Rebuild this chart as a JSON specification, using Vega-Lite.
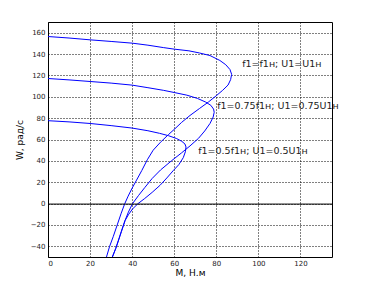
{
  "$schema": "https://vega.github.io/schema/vega-lite/v6.json",
  "width": 284,
  "height": 235,
  "autosize": {"type": "none"},
  "padding": {"left": 48, "top": 22, "right": 35, "bottom": 32},
  "background": "white",
  "config": {
    "view": {"stroke": "black", "strokeWidth": 1},
    "font": "DejaVu Sans",
    "axis": {
      "grid": true,
      "gridColor": "black",
      "gridDash": [1, 2],
      "gridOpacity": 1,
      "gridWidth": 1,
      "ticks": false,
      "domain": false,
      "labelOverlap": false,
      "labelFont": "DejaVu Sans",
      "labelFontSize": 7,
      "labelColor": "#222",
      "titleFont": "DejaVu Sans",
      "titleFontSize": 9,
      "titleFontWeight": "normal",
      "titleColor": "black"
    }
  },
  "datasets": {
    "curves": [
      {"c": "a", "i": 1, "M": 0, "W": 156.4},
      {"c": "a", "i": 2, "M": 10, "W": 155},
      {"c": "a", "i": 3, "M": 20, "W": 153.3},
      {"c": "a", "i": 4, "M": 30, "W": 151.8},
      {"c": "a", "i": 5, "M": 40, "W": 150.2},
      {"c": "a", "i": 6, "M": 47.5, "W": 148.3},
      {"c": "a", "i": 7, "M": 55, "W": 146},
      {"c": "a", "i": 8, "M": 60, "W": 144.6},
      {"c": "a", "i": 9, "M": 67, "W": 143},
      {"c": "a", "i": 10, "M": 72, "W": 141},
      {"c": "a", "i": 11, "M": 77, "W": 138.6},
      {"c": "a", "i": 12, "M": 81.7, "W": 134},
      {"c": "a", "i": 13, "M": 84.5, "W": 130},
      {"c": "a", "i": 14, "M": 86.5, "W": 125.5},
      {"c": "a", "i": 15, "M": 87.3, "W": 121},
      {"c": "a", "i": 16, "M": 86.8, "W": 116},
      {"c": "a", "i": 17, "M": 85.6, "W": 111},
      {"c": "a", "i": 18, "M": 83, "W": 106},
      {"c": "a", "i": 19, "M": 80, "W": 101},
      {"c": "a", "i": 20, "M": 76.2, "W": 95},
      {"c": "a", "i": 21, "M": 72, "W": 89},
      {"c": "a", "i": 22, "M": 67.5, "W": 82.5},
      {"c": "a", "i": 23, "M": 63.5, "W": 76},
      {"c": "a", "i": 24, "M": 60.3, "W": 70},
      {"c": "a", "i": 25, "M": 57.2, "W": 64.5},
      {"c": "a", "i": 26, "M": 53.5, "W": 57.5},
      {"c": "a", "i": 27, "M": 50, "W": 50},
      {"c": "a", "i": 28, "M": 47.2, "W": 41},
      {"c": "a", "i": 29, "M": 44.6, "W": 31},
      {"c": "a", "i": 30, "M": 42.1, "W": 22},
      {"c": "a", "i": 31, "M": 40, "W": 14.5},
      {"c": "a", "i": 32, "M": 38.1, "W": 7},
      {"c": "a", "i": 33, "M": 36.5, "W": 0},
      {"c": "a", "i": 34, "M": 34.8, "W": -9},
      {"c": "a", "i": 35, "M": 32.9, "W": -20},
      {"c": "a", "i": 36, "M": 31, "W": -31},
      {"c": "a", "i": 37, "M": 29.3, "W": -40},
      {"c": "a", "i": 38, "M": 27.8, "W": -50},
      {"c": "b", "i": 1, "M": 0, "W": 117.1},
      {"c": "b", "i": 2, "M": 10, "W": 115.8},
      {"c": "b", "i": 3, "M": 20, "W": 114.3},
      {"c": "b", "i": 4, "M": 30, "W": 112.8},
      {"c": "b", "i": 5, "M": 40, "W": 110.9},
      {"c": "b", "i": 6, "M": 47.5, "W": 108.5},
      {"c": "b", "i": 7, "M": 55, "W": 106},
      {"c": "b", "i": 8, "M": 60, "W": 104},
      {"c": "b", "i": 9, "M": 66, "W": 101.5},
      {"c": "b", "i": 10, "M": 71, "W": 98.5},
      {"c": "b", "i": 11, "M": 75, "W": 95},
      {"c": "b", "i": 12, "M": 77.4, "W": 92},
      {"c": "b", "i": 13, "M": 78.7, "W": 88.5},
      {"c": "b", "i": 14, "M": 79, "W": 85.5},
      {"c": "b", "i": 15, "M": 78.5, "W": 81},
      {"c": "b", "i": 16, "M": 77, "W": 75},
      {"c": "b", "i": 17, "M": 74.5, "W": 68},
      {"c": "b", "i": 18, "M": 71.5, "W": 61},
      {"c": "b", "i": 19, "M": 67.5, "W": 54},
      {"c": "b", "i": 20, "M": 63.5, "W": 47.5},
      {"c": "b", "i": 21, "M": 58.8, "W": 40.2},
      {"c": "b", "i": 22, "M": 53.5, "W": 31.5},
      {"c": "b", "i": 23, "M": 49.5, "W": 23.5},
      {"c": "b", "i": 24, "M": 46, "W": 15},
      {"c": "b", "i": 25, "M": 43, "W": 7.5},
      {"c": "b", "i": 26, "M": 40.2, "W": 0},
      {"c": "b", "i": 27, "M": 38.2, "W": -8},
      {"c": "b", "i": 28, "M": 36.6, "W": -16},
      {"c": "b", "i": 29, "M": 34.9, "W": -26},
      {"c": "b", "i": 30, "M": 33.4, "W": -35},
      {"c": "b", "i": 31, "M": 32.2, "W": -42},
      {"c": "b", "i": 32, "M": 30.6, "W": -50},
      {"c": "c", "i": 1, "M": 0, "W": 77.6},
      {"c": "c", "i": 2, "M": 10, "W": 76.5},
      {"c": "c", "i": 3, "M": 20, "W": 75},
      {"c": "c", "i": 4, "M": 30, "W": 73},
      {"c": "c", "i": 5, "M": 40, "W": 70.7},
      {"c": "c", "i": 6, "M": 47.5, "W": 68.2},
      {"c": "c", "i": 7, "M": 53, "W": 65.8},
      {"c": "c", "i": 8, "M": 57.2, "W": 63.6},
      {"c": "c", "i": 9, "M": 61, "W": 61},
      {"c": "c", "i": 10, "M": 63.6, "W": 58.3},
      {"c": "c", "i": 11, "M": 65.1, "W": 55.8},
      {"c": "c", "i": 12, "M": 65.6, "W": 53},
      {"c": "c", "i": 13, "M": 65.3, "W": 48.5},
      {"c": "c", "i": 14, "M": 64.3, "W": 43},
      {"c": "c", "i": 15, "M": 62.2, "W": 36.5},
      {"c": "c", "i": 16, "M": 59.5, "W": 30.8},
      {"c": "c", "i": 17, "M": 56.5, "W": 24},
      {"c": "c", "i": 18, "M": 53.2, "W": 17},
      {"c": "c", "i": 19, "M": 49.5, "W": 10.5},
      {"c": "c", "i": 20, "M": 46, "W": 4.8},
      {"c": "c", "i": 21, "M": 42.8, "W": 0},
      {"c": "c", "i": 22, "M": 40.2, "W": -5},
      {"c": "c", "i": 23, "M": 38.2, "W": -10.5},
      {"c": "c", "i": 24, "M": 36.6, "W": -16},
      {"c": "c", "i": 25, "M": 34.9, "W": -26},
      {"c": "c", "i": 26, "M": 33.4, "W": -35},
      {"c": "c", "i": 27, "M": 32.2, "W": -42},
      {"c": "c", "i": 28, "M": 30.6, "W": -50}
    ],
    "one": [{}]
  },
  "layer": [
    {
      "data": {"name": "curves"},
      "mark": {"type": "line", "color": "#0000ff", "strokeWidth": 1, "clip": true},
      "encoding": {
        "x": {"field": "M", "type": "quantitative", "scale": {"domain": [0, 135], "nice": false, "zero": false},
          "axis": {"values": [0, 20, 40, 60, 80, 100, 120], "title": "M, Н.м", "labelPadding": 2, "titlePadding": 2, "labelOverlap": false}},
        "y": {"field": "W", "type": "quantitative", "scale": {"domain": [-50, 170], "nice": false, "zero": false},
          "axis": {"values": [-40, -20, 0, 20, 40, 60, 80, 100, 120, 140, 160], "title": "W, рад/с", "labelPadding": 3, "titlePadding": 6, "labelOverlap": false}},
        "detail": {"field": "c"},
        "order": {"field": "i", "type": "quantitative"}
      }
    },
    {
      "data": {"name": "one"},
      "mark": {"type": "rule", "color": "black", "strokeWidth": 1, "yOffset": 0.5},
      "encoding": {"y": {"datum": 0, "type": "quantitative", "axis": {"values": [-40, -20, 0, 20, 40, 60, 80, 100, 120, 140, 160], "title": "W, рад/с", "labelPadding": 3, "titlePadding": 6, "labelOverlap": false}}}
    },
    {
      "data": {"name": "one"},
      "mark": {"type": "text", "align": "left", "baseline": "middle", "fontSize": 9.5, "font": "DejaVu Sans", "color": "#222"},
      "encoding": {
        "x": {"datum": 92.3, "type": "quantitative", "axis": {"values": [0, 20, 40, 60, 80, 100, 120], "title": "M, Н.м", "labelPadding": 2, "titlePadding": 2, "labelOverlap": false}},
        "y": {"datum": 130.6, "type": "quantitative", "axis": {"values": [-40, -20, 0, 20, 40, 60, 80, 100, 120, 140, 160], "title": "W, рад/с", "labelPadding": 3, "titlePadding": 6, "labelOverlap": false}},
        "text": {"value": "f1=f1н; U1=U1н"}}
    },
    {
      "data": {"name": "one"},
      "mark": {"type": "text", "align": "left", "baseline": "middle", "fontSize": 9.5, "font": "DejaVu Sans", "color": "#222"},
      "encoding": {
        "x": {"datum": 80.4, "type": "quantitative", "axis": {"values": [0, 20, 40, 60, 80, 100, 120], "title": "M, Н.м", "labelPadding": 2, "titlePadding": 2, "labelOverlap": false}},
        "y": {"datum": 91.6, "type": "quantitative", "axis": {"values": [-40, -20, 0, 20, 40, 60, 80, 100, 120, 140, 160], "title": "W, рад/с", "labelPadding": 3, "titlePadding": 6, "labelOverlap": false}},
        "text": {"value": "f1=0.75f1н; U1=0.75U1н"}}
    },
    {
      "data": {"name": "one"},
      "mark": {"type": "text", "align": "left", "baseline": "middle", "fontSize": 9.5, "font": "DejaVu Sans", "color": "#222"},
      "encoding": {
        "x": {"datum": 71.4, "type": "quantitative", "axis": {"values": [0, 20, 40, 60, 80, 100, 120], "title": "M, Н.м", "labelPadding": 2, "titlePadding": 2, "labelOverlap": false}},
        "y": {"datum": 48.9, "type": "quantitative", "axis": {"values": [-40, -20, 0, 20, 40, 60, 80, 100, 120, 140, 160], "title": "W, рад/с", "labelPadding": 3, "titlePadding": 6, "labelOverlap": false}},
        "text": {"value": "f1=0.5f1н; U1=0.5U1н"}}
    }
  ]
}
